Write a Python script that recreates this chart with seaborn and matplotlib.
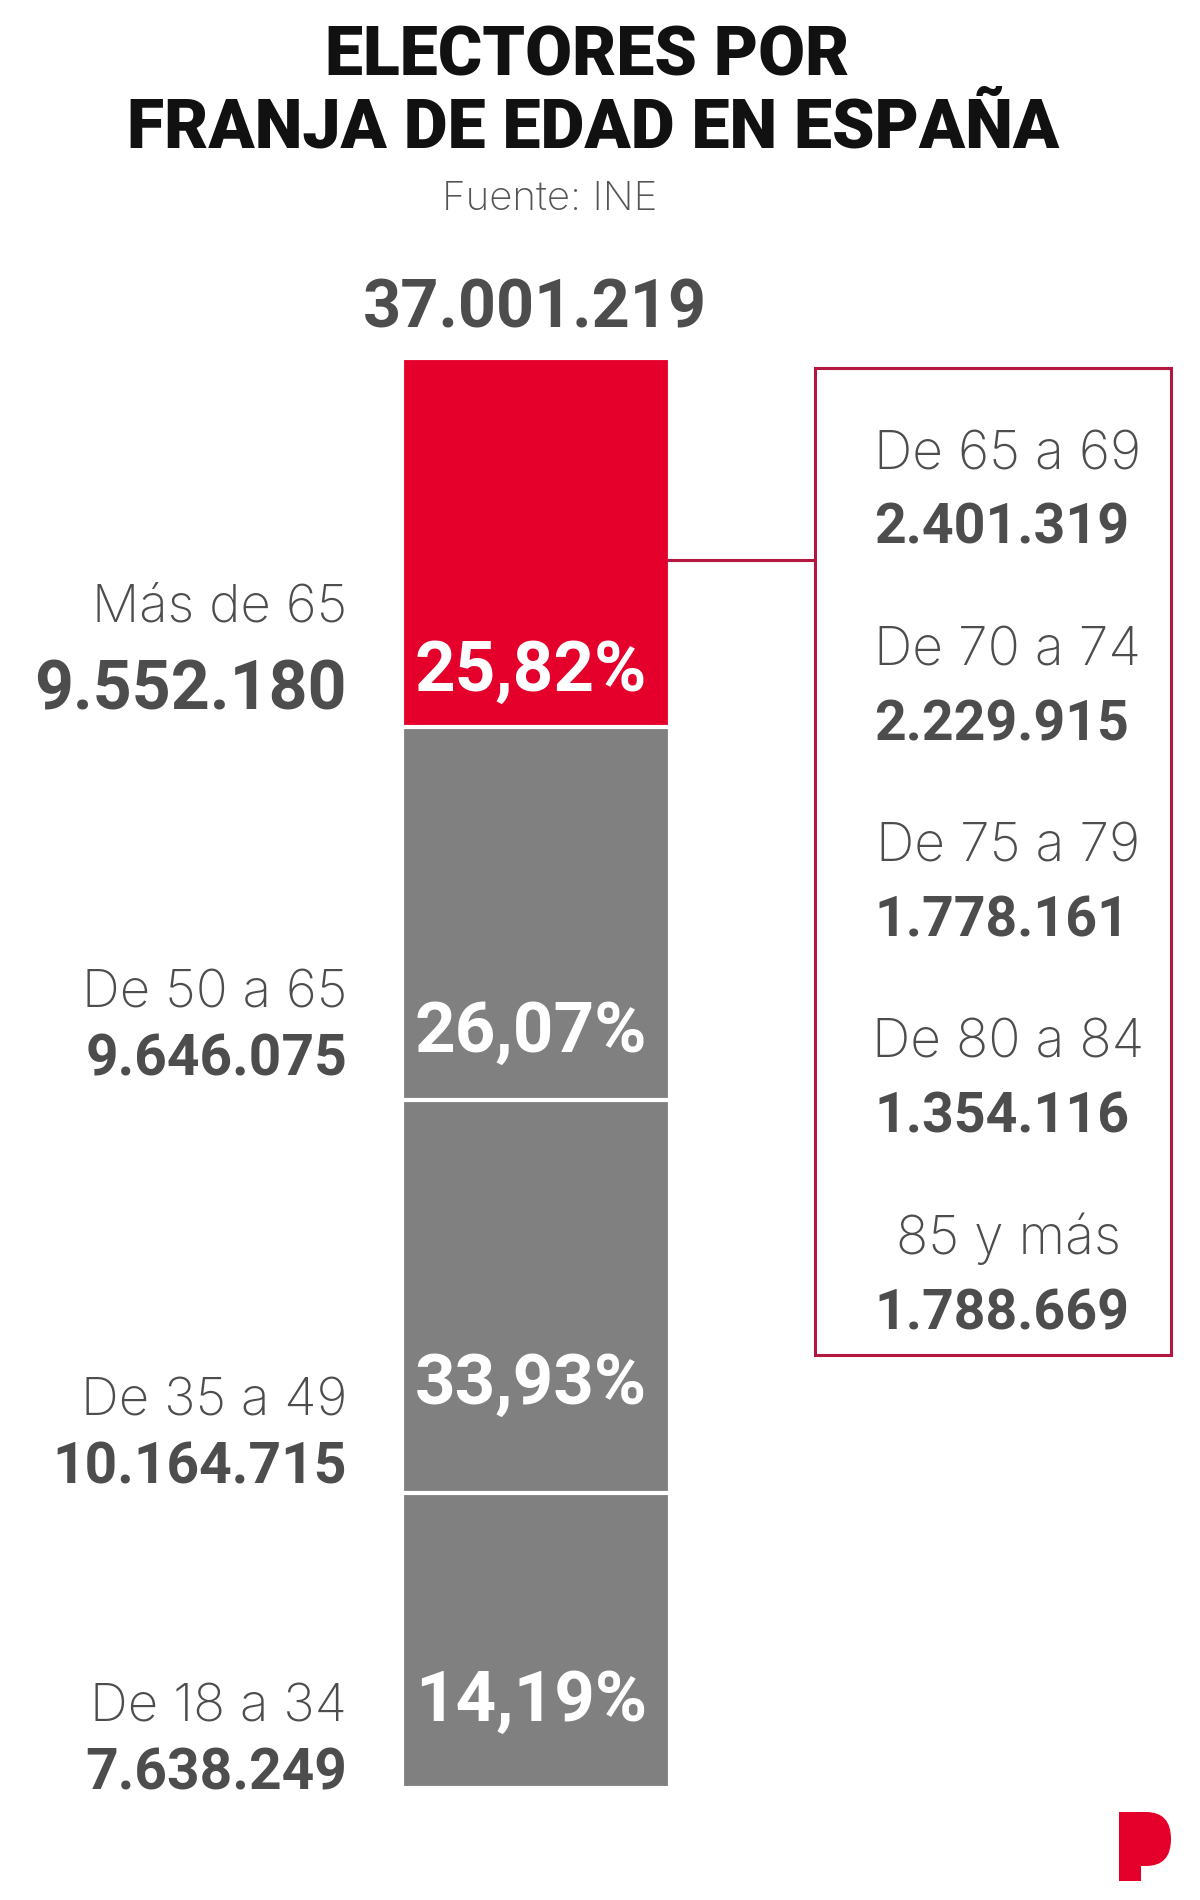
import pandas as pd
import matplotlib.pyplot as plt
import seaborn as sns
from matplotlib.patches import Rectangle, PathPatch
from matplotlib.path import Path

sns.set_style("white")
plt.rcParams['font.family'] = ['Inter', 'DejaVu Sans']

# datos (INE)
grupos = ['Más de 65', 'De 50 a 65', 'De 35 a 49', 'De 18 a 34']
electores = [9552180, 9646075, 10164715, 7638249]
porcentajes = ['25,82%', '26,07%', '33,93%', '14,19%']
total = '37.001.219'

sub_grupos = ['De 65 a 69', 'De 70 a 74', 'De 75 a 79', 'De 80 a 84', '85 y más']
sub_electores = ['2.401.319', '2.229.915', '1.778.161', '1.354.116', '1.788.669']

ROJO = '#e4002b'
GRIS = '#808080'
TEXTO = '#4d4d4d'
BORDE = '#b3173f'
NUM = ['Roboto', 'DejaVu Sans']

def fmt(n):
    return f'{n:,}'.replace(',', '.')

# acumulados de arriba a abajo, se pintan uno encima del otro
df = pd.DataFrame({'grupo': grupos, 'electores': electores})
df['acum'] = df['electores'][::-1].cumsum()[::-1]
colores = [ROJO, GRIS, GRIS, GRIS]

fig = plt.figure(figsize=(12, 19), dpi=100)
W, H = 1200, 1900

ax = fig.add_axes([402 / W, (H - 1788) / H, 268 / W, (1788 - 358) / H])
for i, row in df.iterrows():
    sns.barplot(x=['x'], y=[row['acum']], color=colores[i], width=1,
                edgecolor='white', linewidth=3, saturation=1, ax=ax)
ax.set_xlim(-0.5, 0.5)
ax.set_ylim(0, df['acum'].max())
ax.axis('off')

# capa de anotaciones en pixeles
ov = fig.add_axes([0, 0, 1, 1], zorder=5)
ov.set_xlim(0, W)
ov.set_ylim(H, 0)
ov.axis('off')

ov.text(587, 75, 'ELECTORES POR', ha='center', va='baseline', fontsize=49,
        fontweight='black', color='#111111', family=NUM)
ov.text(593, 148, 'FRANJA DE EDAD EN ESPAÑA', ha='center', va='baseline', fontsize=49,
        fontweight='black', color='#111111', family=NUM)
ov.text(550, 210, 'Fuente: INE', ha='center', va='baseline', fontsize=29,
        fontweight='light', color='#555555')
ov.text(535, 327, total, ha='center', va='baseline', fontsize=48,
        fontweight='bold', color=TEXTO, family=NUM)

# etiquetas izquierda
lab_y = [622, 1008, 1416, 1721]
num_y = [710, 1075, 1484, 1789]
num_fs = [49, 41, 41, 41]
pct_y = [691, 1052, 1404, 1721]
for g, n, ly, ny, fs, p, py in zip(grupos, electores, lab_y, num_y, num_fs, porcentajes, pct_y):
    ov.text(347, ly, g, ha='right', va='baseline', fontsize=38,
            fontweight='light', color=TEXTO)
    ov.text(347, ny, fmt(n), ha='right', va='baseline', fontsize=fs,
            fontweight='bold', color=TEXTO, family=NUM)
    ov.text(531, py, p, ha='center', va='baseline', fontsize=51,
            fontweight='bold', color='white', family=NUM)

# recuadro desglose mayores de 65
ov.add_patch(Rectangle((815, 368), 1171 - 815, 1355 - 368, fill=False,
                       edgecolor=BORDE, linewidth=2.2))
ov.plot([668, 815], [560, 560], color=BORDE, linewidth=2.2)
for i, (g, n) in enumerate(zip(sub_grupos, sub_electores)):
    y0 = 469 + i * 196.3
    ov.text(1008, y0, g, ha='center', va='baseline', fontsize=38.5,
            fontweight='light', color=TEXTO)
    ov.text(1002, y0 + 75, n, ha='center', va='baseline', fontsize=40,
            fontweight='bold', color=TEXTO, family=NUM)

# logo
verts = [(1119, 1812), (1146, 1812), (1171, 1812), (1171, 1839), (1171, 1866),
         (1146, 1866), (1141, 1866), (1141, 1881), (1119, 1881), (1119, 1812)]
codes = [Path.MOVETO, Path.LINETO, Path.CURVE3, Path.CURVE3, Path.CURVE3,
         Path.CURVE3, Path.LINETO, Path.LINETO, Path.LINETO, Path.CLOSEPOLY]
ov.add_patch(PathPatch(Path(verts, codes), facecolor=ROJO, edgecolor='none'))

fig.savefig('out.png', dpi=100, facecolor='white')
